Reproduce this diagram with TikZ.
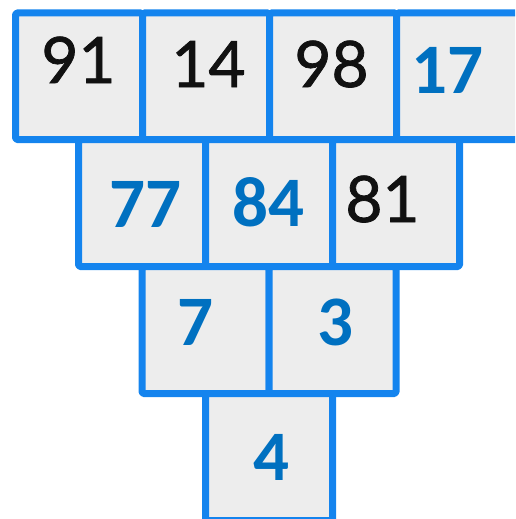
\documentclass[tikz,border=0pt]{standalone}
\usepackage{fontspec}
\newfontfamily\blackfont[FakeBold=1.2]{Lato}
\newfontfamily\bluefont{Carlito}
\definecolor{cellfill}{HTML}{EDEDED}
\definecolor{cellborder}{HTML}{1484EE}
\definecolor{bluetext}{HTML}{0070C0}
\definecolor{blacktext}{HTML}{111111}
\begin{document}
\begin{tikzpicture}[x=1pt,y=-1pt,
  cell/.style={draw=cellborder,fill=cellfill,line width=7pt,minimum width=127pt,minimum height=127pt,inner sep=0pt,line join=round,rounded corners=1.5pt},
  plainnum/.style={anchor=base,inner sep=0pt,text=blacktext,font=\blackfont\fontsize{64}{64}\selectfont},
  boldnum/.style={anchor=base,inner sep=0pt,text=bluetext,font=\bluefont\bfseries\fontsize{71}{71}\selectfont}]
\useasboundingbox (0,0) rectangle (515,519);
\clip (0,0) rectangle (515,519);
% row 1
\node[cell,minimum height=126.5pt] (c11) at (79,76.25) {};
\node[cell,minimum height=126.5pt] (c12) at (206,76.25) {};
\node[cell,minimum height=126.5pt] (c13) at (333,76.25) {};
\node[cell,minimum height=126.5pt] (c14) at (460,76.25) {};
% row 2
\node[cell] (c21) at (142,203) {};
\node[cell] (c22) at (269,203) {};
\node[cell] (c23) at (396,203) {};
% row 3
\node[cell] (c31) at (205.5,330) {};
\node[cell] (c32) at (332.5,330) {};
% row 4
\node[cell] (c41) at (269,457) {};
% numbers
\node[plainnum] (t91) at (78.5,83) {91};
\node[plainnum] (t14) at (208.5,87) {14};
\node[plainnum] (t98) at (331.5,87) {98};
\node[boldnum] (t17) at (447.5,93) {17};
\node[boldnum] (t77) at (145.5,227) {77};
\node[boldnum] (t84) at (268.5,226) {84};
\node[plainnum] (t81) at (382.5,222) {81};
\node[boldnum] (t7) at (195.5,345) {7};
\node[boldnum] (t3) at (335.5,345) {3};
\node[boldnum] (t4) at (271.5,480) {4};
\end{tikzpicture}
\end{document}
